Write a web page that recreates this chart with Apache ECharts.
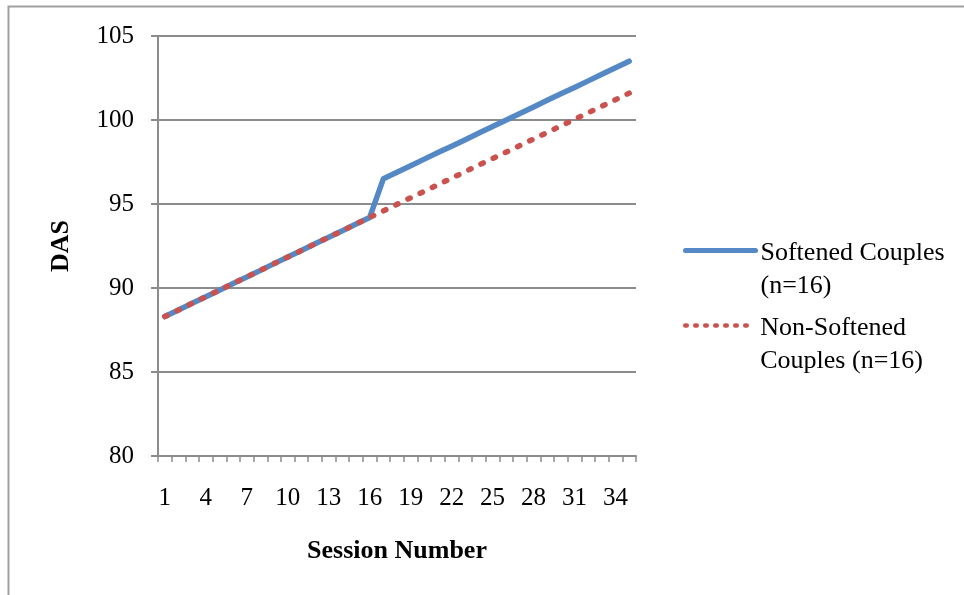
<!DOCTYPE html>
<html>
<head>
<meta charset="utf-8">
<script src="https://cdn.jsdelivr.net/npm/echarts@6/dist/echarts.min.js"></script>
<style>
html,body{margin:0;padding:0;background:#fff;}
#chart{width:964px;height:595px;}
</style>
</head>
<body>
<div id="chart"></div>
<script>
const sessions = ['1','2','3','4','5','6','7','8','9','10','11','12','13','14','15','16','17','18','19','20','21','22','23','24','25','26','27','28','29','30','31','32','33','34','35'];
const softened = [88.3,88.69,89.09,89.48,89.87,90.27,90.66,91.05,91.45,91.84,92.23,92.63,93.02,93.41,93.81,94.2,
  96.5,96.89,97.28,97.67,98.06,98.44,98.83,99.22,99.61,100.0,100.39,100.78,101.17,101.56,101.94,102.33,102.72,103.11,103.5];
const nonSoftened = [88.3,88.69,89.09,89.48,89.87,90.27,90.66,91.05,91.45,91.84,92.23,92.63,93.02,93.41,93.81,94.2,
  94.59,94.98,95.37,95.76,96.15,96.54,96.93,97.32,97.71,98.09,98.48,98.87,99.26,99.65,100.04,100.43,100.82,101.21,101.6];
const seriesNames = ['Softened Couples\n(n=16)', 'Non-Softened\nCouples (n=16)'];
const yTicks = {min: 80, max: 105, interval: 5};

const FONT = '"Liberation Serif", "Times New Roman", serif';
const GRAY = '#8c8c8c';
const BLUE = '#5589c6';
const RED = '#c9524f';
const chart = echarts.init(document.getElementById('chart'), null, {renderer: 'canvas'});
const legendBase = {
  orient: 'vertical', left: 683, padding: 0,
  itemWidth: 70, itemHeight: 14, selectedMode: false,
  itemStyle: {opacity: 0},
  formatter: function (name) { return '{s|}\n' + name; },
  textStyle: {fontFamily: FONT, fontSize: 26, color: '#000', lineHeight: 33,
    rich: {s: {lineHeight: 39, fontSize: 26, fontFamily: FONT}}}
};
chart.setOption({
  animation: false,
  backgroundColor: '#fff',
  graphic: [{
    type: 'rect', left: 6, top: 4, z: -1,
    shape: {width: 1000, height: 700},
    style: {fill: 'none', stroke: '#a0a0a0', lineWidth: 2}
  }],
  grid: {left: 158, right: 328, top: 36, bottom: 139, containLabel: false},
  legend: [
    Object.assign({}, legendBase, {top: 198, data: [{name: seriesNames[0], lineStyle: {width: 5, color: BLUE}}]}),
    Object.assign({}, legendBase, {top: 273, data: [{name: seriesNames[1], lineStyle: {width: 4.5, color: RED, type: [1.5, 8.5], cap: 'round'}}]})
  ],
  xAxis: {
    type: 'category', data: sessions, boundaryGap: true,
    name: 'Session Number', nameLocation: 'middle', nameGap: 82,
    nameTextStyle: {fontFamily: FONT, fontSize: 26, fontWeight: 'bold', color: '#000'},
    axisLine: {lineStyle: {color: GRAY, width: 2}},
    axisTick: {show: true, interval: 0, length: 6, lineStyle: {color: GRAY, width: 1.5}},
    axisLabel: {interval: 2, margin: 30, fontFamily: FONT, fontSize: 25, color: '#000'},
    splitLine: {show: false}
  },
  yAxis: {
    type: 'value', min: yTicks.min, max: yTicks.max, interval: yTicks.interval,
    name: 'DAS', nameLocation: 'middle', nameGap: 84,
    nameTextStyle: {fontFamily: FONT, fontSize: 26, fontWeight: 'bold', color: '#000'},
    axisLine: {show: true, lineStyle: {color: GRAY, width: 2}},
    axisTick: {show: true, length: 7, lineStyle: {color: GRAY, width: 2}},
    axisLabel: {margin: 24, fontFamily: FONT, fontSize: 25, color: '#000'},
    splitLine: {show: true, lineStyle: {color: GRAY, width: 2}}
  },
  series: [
    {
      name: seriesNames[0], type: 'line', data: softened,
      symbol: 'none', showSymbol: false, smooth: false,
      itemStyle: {color: BLUE},
      lineStyle: {color: BLUE, width: 5.5, cap: 'round', join: 'round'}
    },
    {
      name: seriesNames[1], type: 'line', data: nonSoftened,
      symbol: 'none', showSymbol: false, smooth: false,
      itemStyle: {color: RED},
      lineStyle: {color: RED, width: 5.5, type: [2.5, 11], cap: 'round'}
    }
  ]
});
</script>
</body>
</html>
